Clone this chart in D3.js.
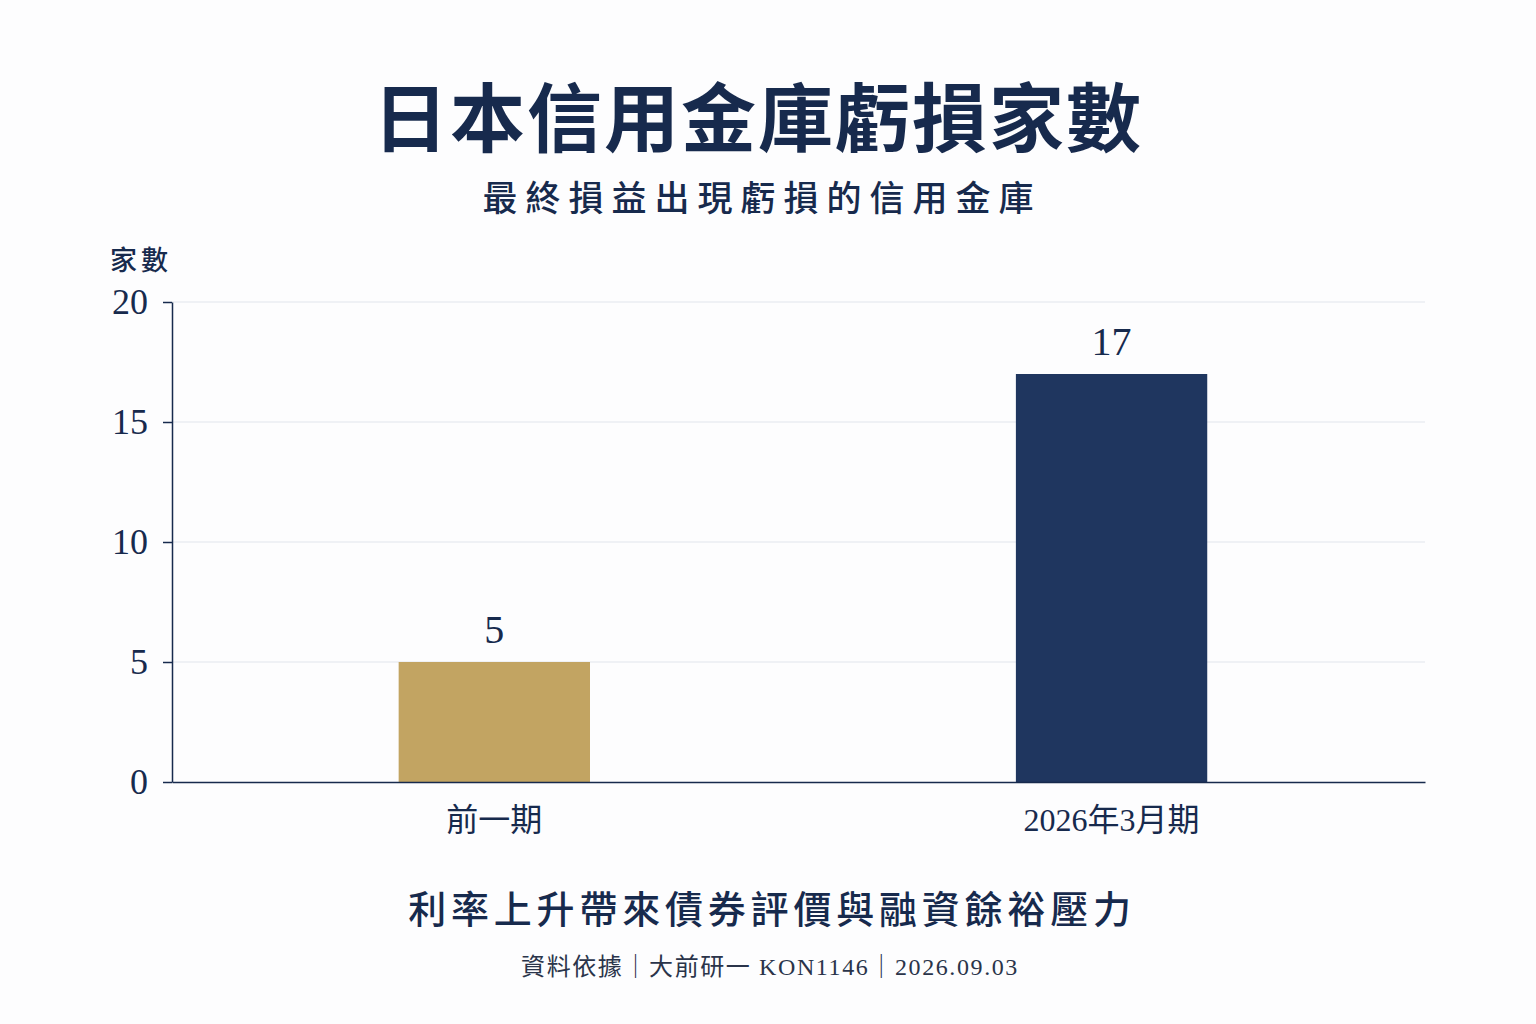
<!DOCTYPE html>
<html>
<head>
<meta charset="utf-8">
<script src="https://cdn.jsdelivr.net/npm/d3@7"></script>
<style>
  body { margin: 0; background: #fdfdfe; }
  svg { display: block; }
</style>
</head>
<body>
<svg></svg>
<script>
// data
const categories = ["前一期", "2026年3月期"];
const values = [5, 17];
const barColors = ["#c2a462", "#1f365f"];
const yTicks = [0, 5, 10, 15, 20];

const width = 1536;
const height = 1024;
const margin = {top: 302, right: 111, bottom: 242, left: 172};
const navy = "#172a4d";
const cjk = "'Noto Sans CJK TC', 'Noto Sans CJK SC', sans-serif";
const mixed = "'Liberation Serif', 'Noto Sans CJK TC', serif";

let svg = d3.select("svg").attr("width", width).attr("height", height);

svg.append("rect").attr("width", width).attr("height", height).attr("fill", "#fdfdfe");

// titles
svg.append("text")
  .attr("x", 758).attr("y", 146)
  .attr("text-anchor", "middle")
  .attr("font-family", cjk).attr("font-weight", 700)
  .attr("font-size", 75).attr("letter-spacing", 2)
  .attr("fill", navy)
  .text("日本信用金庫虧損家數");

svg.append("text")
  .attr("x", 762).attr("y", 211)
  .attr("text-anchor", "middle")
  .attr("font-family", cjk).attr("font-weight", 500)
  .attr("font-size", 35).attr("letter-spacing", 8)
  .attr("fill", navy)
  .text("最終損益出現虧損的信用金庫");

// scales
let x = d3.scaleBand()
  .domain(categories)
  .range([margin.left, width - margin.right])
  .paddingInner(0.69)
  .paddingOuter(0.36)
  .align(0.51);

let y = d3.scaleLinear()
  .domain([0, 20])
  .range([height - margin.bottom, margin.top]);

// grid
svg.append("g")
  .selectAll("line")
  .data(yTicks.filter(d => d > 0))
  .join("line")
  .attr("x1", margin.left).attr("x2", width - margin.right)
  .attr("y1", d => y(d)).attr("y2", d => y(d))
  .attr("stroke", "#e2e5eb").attr("stroke-width", 1.2);

// bars
svg.append("g")
  .selectAll("rect")
  .data(values)
  .join("rect")
  .attr("x", (d, i) => x(categories[i]))
  .attr("y", d => y(d))
  .attr("width", x.bandwidth())
  .attr("height", d => y(0) - y(d))
  .attr("fill", (d, i) => barColors[i]);

// value labels
svg.append("g")
  .selectAll("text")
  .data(values)
  .join("text")
  .attr("x", (d, i) => x(categories[i]) + x.bandwidth() / 2)
  .attr("y", d => y(d) - 19)
  .attr("text-anchor", "middle")
  .attr("font-family", mixed)
  .attr("font-size", 40)
  .attr("fill", navy)
  .text(d => d);

// y axis
let yAxis = d3.axisLeft(y).tickValues(yTicks).tickSize(9).tickPadding(15).tickSizeOuter(0);
let gy = svg.append("g")
  .attr("transform", `translate(${margin.left}, 0)`)
  .call(yAxis);
gy.select(".domain").attr("stroke", navy).attr("stroke-width", 1.5);
gy.selectAll(".tick line").attr("stroke", navy).attr("stroke-width", 1.5);
gy.selectAll(".tick text")
  .attr("font-family", mixed).attr("font-size", 36)
  .attr("fill", navy);

// x axis
let xAxis = d3.axisBottom(x).tickSize(0).tickPadding(26).tickSizeOuter(0);
let gx = svg.append("g")
  .attr("transform", `translate(0, ${y(0)})`)
  .call(xAxis);
gx.select(".domain").attr("stroke", navy).attr("stroke-width", 1.5);
gx.selectAll(".tick text")
  .attr("font-family", mixed).attr("font-size", 32)
  .attr("fill", navy);

// y axis title
svg.append("text")
  .attr("x", 110).attr("y", 270)
  .attr("font-family", cjk).attr("font-weight", 500)
  .attr("font-size", 27).attr("letter-spacing", 4)
  .attr("fill", navy)
  .text("家數");

// footer
svg.append("text")
  .attr("x", 772).attr("y", 923)
  .attr("text-anchor", "middle")
  .attr("font-family", cjk).attr("font-weight", 500)
  .attr("font-size", 38).attr("letter-spacing", 4.8)
  .attr("fill", navy)
  .text("利率上升帶來債券評價與融資餘裕壓力");

svg.append("text")
  .attr("x", 770).attr("y", 975)
  .attr("text-anchor", "middle")
  .attr("font-family", mixed)
  .attr("font-size", 24).attr("letter-spacing", 1.6)
  .attr("fill", "#2a344a")
  .text("資料依據｜大前研一 KON1146｜2026.09.03");
</script>
</body>
</html>
